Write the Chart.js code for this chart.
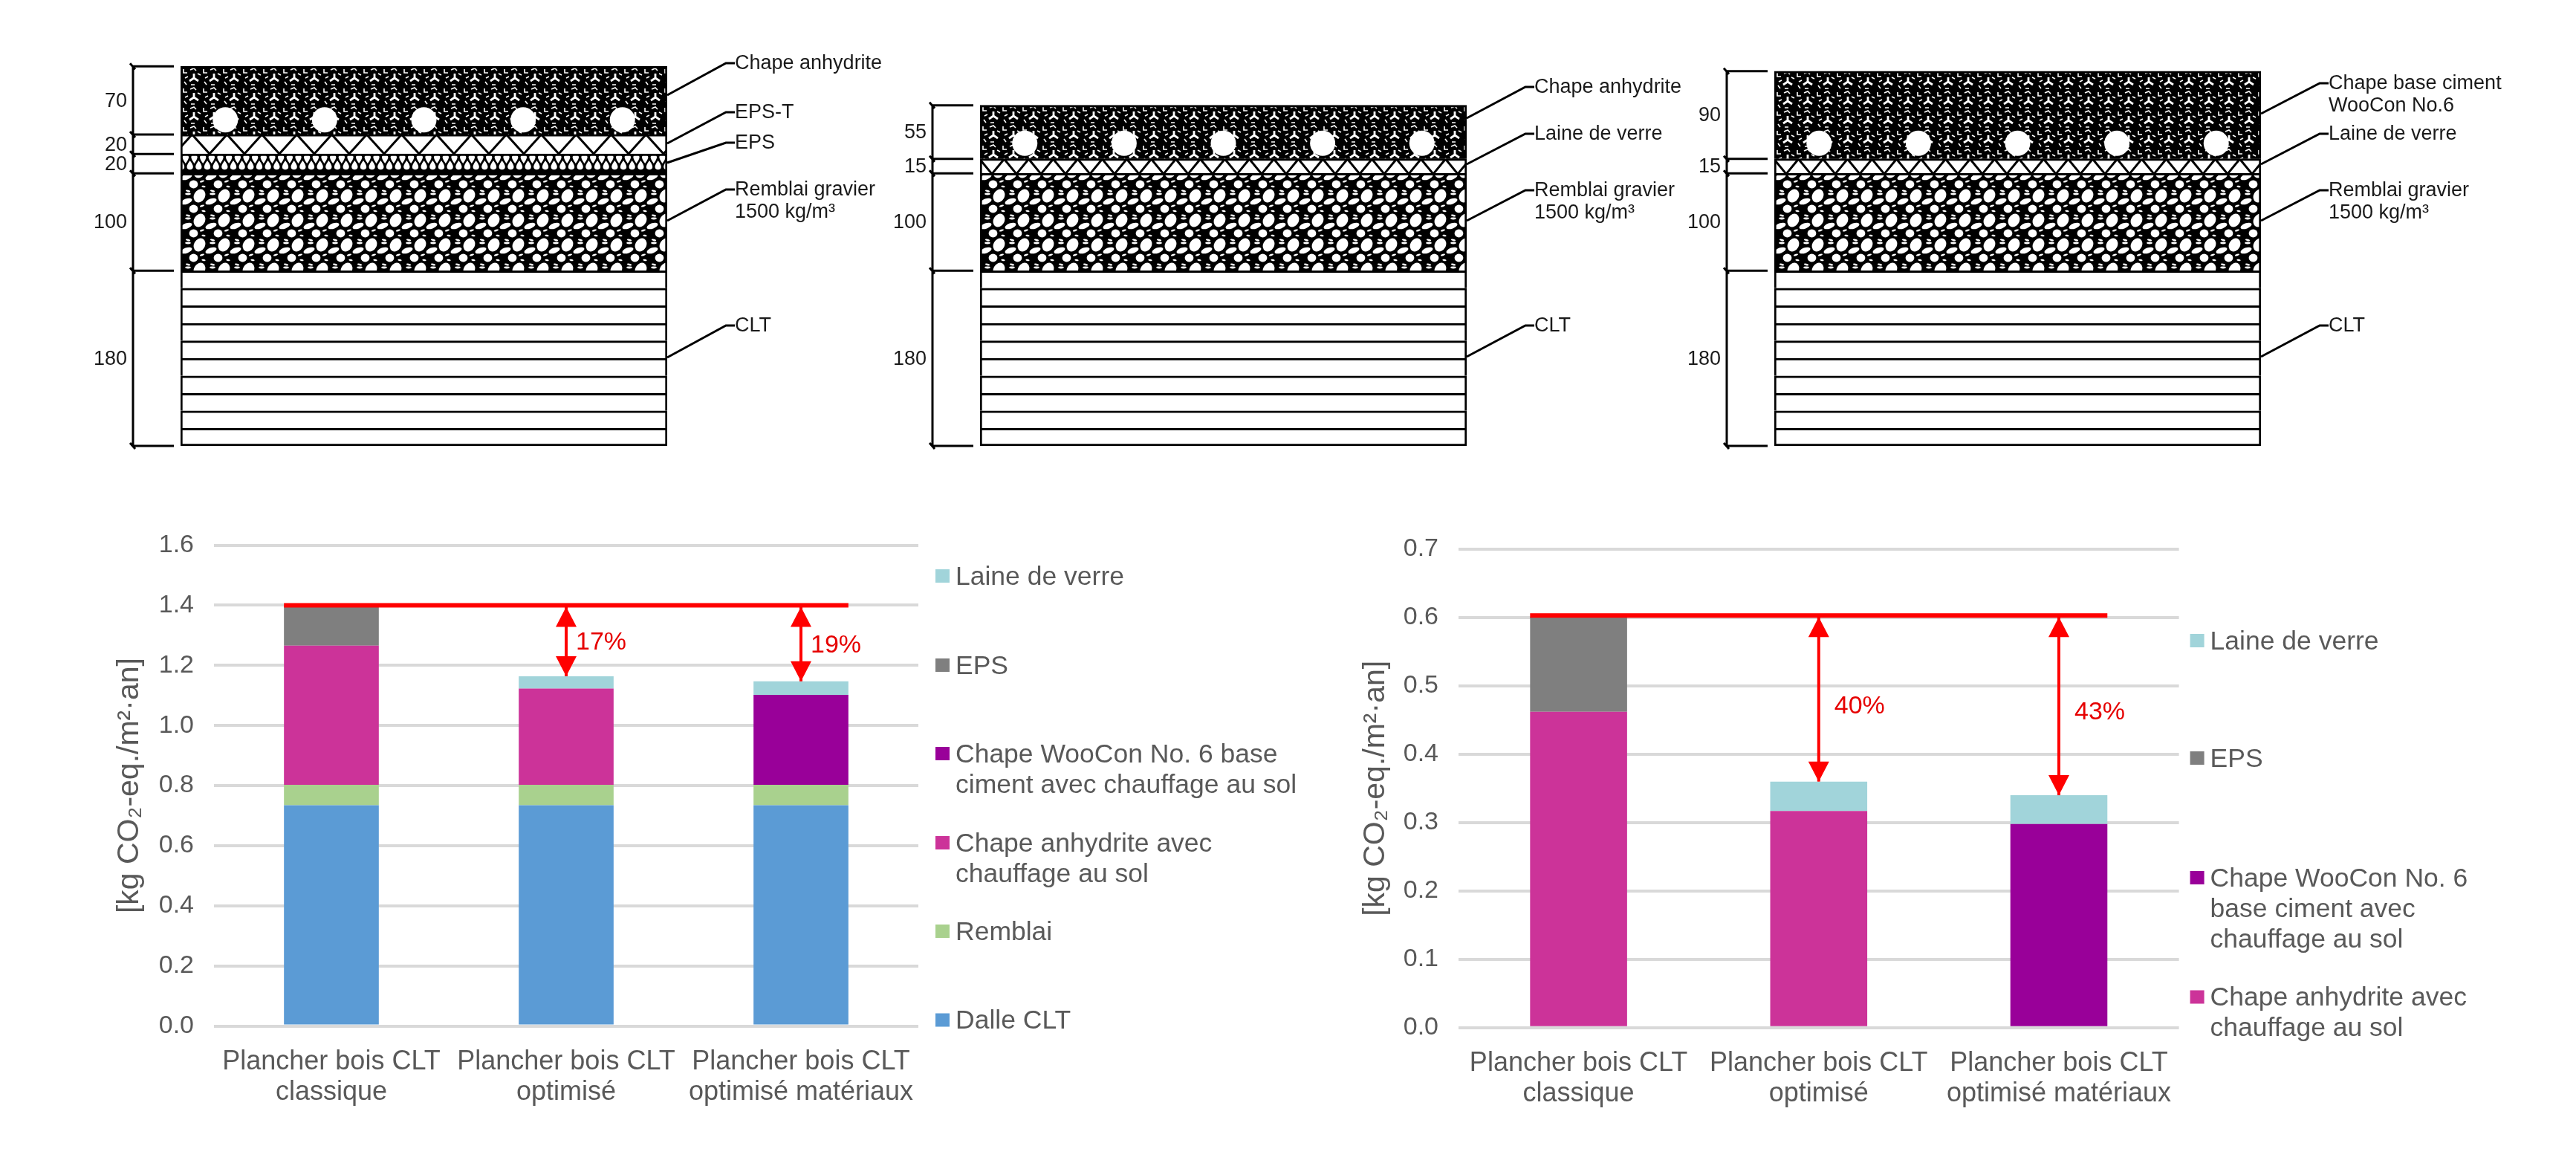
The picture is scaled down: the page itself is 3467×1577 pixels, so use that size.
<!DOCTYPE html>
<html>
<head>
<meta charset="utf-8">
<title>Plancher bois CLT</title>
<script src="https://cdn.jsdelivr.net/npm/chart.js@4/dist/chart.umd.min.js"></script>
<style>
  html, body { margin: 0; background: #fff; width: 3467px; height: 1577px; overflow: hidden; }
  canvas { position: absolute; }
</style>
</head>
<body>
<canvas id="sectionA"></canvas>
<canvas id="sectionB"></canvas>
<canvas id="sectionC"></canvas>
<canvas id="chartTotal"></canvas>
<canvas id="chartScreed"></canvas>
<script>
// floor build-ups, thickness in mm from bottom to top
const layersA = [100, 20, 20, 70];
const layersB = [100, 15, 55];
const layersC = [100, 15, 90];
const lamellae = [18, 18, 18, 18, 18, 18, 18, 18, 18, 18];
const dimensionsA = [180, 100, 20, 20, 70];
const dimensionsB = [180, 100, 15, 55];
const dimensionsC = [180, 100, 15, 90];
const pipesX = [46, 148, 250, 352, 454];

const calloutsA = [['Chape anhydrite'], ['EPS-T'], ['EPS'], ['Remblai gravier', '1500 kg/m³'], ['CLT']];
const calloutsB = [['Chape anhydrite'], ['Laine de verre'], ['Remblai gravier', '1500 kg/m³'], ['CLT']];
const calloutsC = [['Chape base ciment', 'WooCon No.6'], ['Laine de verre'], ['Remblai gravier', '1500 kg/m³'], ['CLT']];

// bar charts
const categories = [['Plancher bois CLT', 'classique'], ['Plancher bois CLT', 'optimisé'], ['Plancher bois CLT', 'optimisé matériaux']];

const dalleTotal = [0.735, 0.735, 0.735];
const remblaiTotal = [0.068, 0.068, 0.068];
const anhydriteTotal = [0.463, 0.320, null];
const wooconTotal = [null, null, 0.299];
const epsTotal = [0.134, null, null];
const laineTotal = [null, 0.041, 0.045];
const refTotal = 1.40;
const savingsTotal = ['17%', '19%'];
const savingsTotalAt = [1.275, 1.265];

const anhydriteScreed = [0.462, 0.317, null];
const wooconScreed = [null, null, 0.298];
const epsScreed = [0.139, null, null];
const laineScreed = [null, 0.043, 0.042];
const refScreed = 0.603;
const savingsScreed = ['40%', '43%'];
const savingsScreedAt = [0.470, 0.461];

const COLORS = { dalle: '#5b9bd5', remblai: '#a9d18e', anhydrite: '#cc3399', woocon: '#990099', eps: '#7f7f7f', laine: '#a1d4da' };
const TEXT = '#595959';
const FONT = 'Liberation Sans, Arial, sans-serif';
const RED = '#ff0000';

Chart.defaults.font.family = FONT;
Chart.defaults.animation = false;
Chart.defaults.responsive = false;
Chart.defaults.devicePixelRatio = 1;
Chart.defaults.events = [];

function setup(id, left, top, width, height) {
  const canvas = document.getElementById(id);
  canvas.width = width;
  canvas.height = height;
  canvas.style.left = left + 'px';
  canvas.style.top = top + 'px';
  return canvas.getContext('2d');
}

function makePattern(ctx, w, h, ox, oy, draw) {
  const tile = document.createElement('canvas');
  tile.width = w;
  tile.height = h;
  draw(tile.getContext('2d'), w, h);
  const pattern = ctx.createPattern(tile, 'repeat');
  pattern.setTransform(new DOMMatrix().translate(ox, oy));
  return pattern;
}

function drawScreed(t, w, h) {
  t.fillStyle = '#000';
  t.fillRect(0, 0, w, h);
  t.strokeStyle = '#fff';
  t.lineCap = 'butt';
  // three-armed fleck
  t.lineWidth = 2.8;
  t.beginPath();
  t.moveTo(17, 8); t.lineTo(17, 14);
  t.moveTo(17, 14); t.lineTo(11, 18);
  t.moveTo(17, 14); t.lineTo(23, 18);
  t.stroke();
  // thin hooks between them
  t.lineWidth = 1.6;
  t.beginPath();
  t.moveTo(3, 2); t.lineTo(3, 7); t.lineTo(8, 7);
  t.moveTo(12, 3); t.lineTo(17, 1); t.lineTo(20, 4);
  t.moveTo(5, 14); t.lineTo(9, 12);
  t.moveTo(4, 19); t.lineTo(7, 23);
  t.moveTo(22, 8); t.lineTo(26, 10);
  t.moveTo(13, 23); t.lineTo(18, 23);
  t.stroke();
}

function drawGravel(t, w, h) {
  t.fillStyle = '#000';
  t.fillRect(0, 0, w, h);
  t.fillStyle = '#fff';
  const blob = (x, y, rx, ry, rot) => {
    for (const dx of [-w, 0, w]) for (const dy of [-h, 0, h]) {
      t.beginPath();
      t.ellipse(x + dx, y + dy, rx, ry, rot, 0, Math.PI * 2);
      t.fill();
    }
  };
  blob(23.5, 31.5, 7.4, 9.4, 0.5);
  blob(6, 6, 7.8, 3.6, -0.35);
  blob(15.5, 16, 5.9, 5.4, 0);
  blob(8, 29, 3.8, 1.4, 0);
  blob(8, 25, 3.2, 1.2, 0.2);
  blob(27, 12, 3.2, 1.2, -0.3);
  blob(29, 19, 2.7, 1.2, 0.2);
}

function drawDrops(t, w, h) {
  t.fillStyle = '#000';
  t.fillRect(0, 0, w, h);
  t.fillStyle = '#fff';
  const step = w / 3;
  for (let i = 0; i < 3; i++) {
    const a = step * i + step / 2;
    t.beginPath();
    t.moveTo(a, 14);
    t.quadraticCurveTo(a - 6, 6, a - 3.4, 3.5);
    t.quadraticCurveTo(a, 1, a + 3.4, 3.5);
    t.quadraticCurveTo(a + 6, 6, a, 14);
    t.fill();
    const b = step * i;
    for (const x of [b, b + w]) {
      t.beginPath();
      t.moveTo(x, 10);
      t.quadraticCurveTo(x - 6, 18, x - 3.4, 21);
      t.quadraticCurveTo(x, 23.5, x + 3.4, 21);
      t.quadraticCurveTo(x + 6, 18, x, 10);
      t.fill();
    }
  }
}

function drawZigzag(t, w, h) {
  t.fillStyle = '#fff';
  t.fillRect(0, 0, w, h);
  t.strokeStyle = '#000';
  t.lineWidth = 3;
  t.beginPath();
  t.moveTo(0, h);
  t.lineTo(w / 2, 0);
  t.lineTo(w, h);
  t.stroke();
}

const AREA_TOP = 50;
const AREA_BOTTOM = 600;
const SECTION_LEFT = 143;
const SECTION_W = 1130;
const BAR_W = 655;

const sectionPlugin = (dimensions, callouts, leaders) => ({
  id: 'section',
  afterDraw(chart) {
    const { ctx, chartArea: area, scales: { y } } = chart;
    const vx = area.left - 64;
    ctx.save();
    ctx.strokeStyle = '#000';
    ctx.fillStyle = '#1a1a1a';
    ctx.lineWidth = 3;
    ctx.font = '27px ' + FONT;

    // dimension bracket, walked from the bottom up
    let total = 0;
    const marks = [0];
    for (const d of dimensions) { total += d; marks.push(total); }
    ctx.beginPath();
    ctx.moveTo(vx, y.getPixelForValue(0));
    ctx.lineTo(vx, y.getPixelForValue(total));
    for (const m of marks) {
      const py = y.getPixelForValue(m);
      ctx.moveTo(vx - 1, py);
      ctx.lineTo(area.left - 9, py);
      ctx.moveTo(vx - 4, py - 4);
      ctx.lineTo(vx + 3, py + 4);
    }
    ctx.stroke();
    ctx.textAlign = 'right';
    ctx.textBaseline = 'middle';
    dimensions.forEach((d, i) => {
      ctx.fillText(String(d), area.left - 72, y.getPixelForValue((marks[i] + marks[i + 1]) / 2) + 1);
    });

    // leader lines and their labels
    ctx.textAlign = 'left';
    callouts.forEach((lines, i) => {
      const [fromY, toY] = leaders[i];
      ctx.beginPath();
      ctx.moveTo(area.right, fromY);
      ctx.lineTo(area.right + 79, toY);
      ctx.lineTo(area.right + 91, toY);
      ctx.stroke();
      lines.forEach((text, n) => ctx.fillText(text, area.right + 91, toY + 1 + n * 30));
    });
    ctx.restore();
  }
});

function createSection(id, left, layers, pipeHeight, patterns, dimensions, callouts, leaders) {
  const ctx = setup(id, left, 0, SECTION_W, 640);
  const patternFor = patterns(ctx);
  const datasets = [];
  lamellae.forEach((value, i) => datasets.push({
    data: [value], backgroundColor: '#fff', borderColor: '#000', order: 1, xAxisID: 'x',
    borderWidth: { top: 3, left: 3, right: 3, bottom: i == 0 ? 3 : 0 }, borderSkipped: false
  }));
  layers.forEach((value, i) => datasets.push({
    data: [value], backgroundColor: patternFor[i], borderColor: '#000', order: 1, xAxisID: 'x',
    borderWidth: { top: 3, left: 3, right: 3, bottom: 0 }, borderSkipped: false
  }));
  datasets.push({
    type: 'scatter', xAxisID: 'mm', order: 0,
    data: pipesX.map(x => ({ x, y: pipeHeight })),
    pointRadius: 17, backgroundColor: '#fff', borderColor: '#fff', borderWidth: 0
  });
  return new Chart(ctx, {
    type: 'bar',
    data: { labels: [''], datasets },
    options: {
      layout: { padding: { left: SECTION_LEFT, right: SECTION_W - SECTION_LEFT - BAR_W, top: AREA_TOP, bottom: 640 - AREA_BOTTOM } },
      datasets: { bar: { categoryPercentage: 1, barPercentage: 1, grouped: false } },
      plugins: { legend: { display: false }, tooltip: { enabled: false } },
      scales: {
        x: { display: false, stacked: true },
        mm: { type: 'linear', display: false, min: 0, max: 500, position: 'bottom', offset: false, grid: { offset: false } },
        y: { display: false, stacked: true, min: 0, max: 420 }
      }
    },
    plugins: [sectionPlugin(dimensions, callouts, leaders)]
  });
}

createSection('sectionA', 100, layersA, 335, ctx => {
  const ox = 143;
  return [
    makePattern(ctx, 33, 33, ox + 2, 232, drawGravel),
    makePattern(ctx, 35, 27, ox + 1, 206, drawDrops),
    makePattern(ctx, 47, 26, ox - 8, 181, drawZigzag),
    makePattern(ctx, 27, 26, ox + 1, 91, drawScreed)
  ];
}, dimensionsA, calloutsA, [[128, 85], [193, 151], [219, 192], [297, 255], [481, 438]]);

createSection('sectionB', 1176, layersB, 311, ctx => {
  const ox = 143;
  return [
    makePattern(ctx, 33, 33, ox + 2, 232, drawGravel),
    makePattern(ctx, 33, 20, ox + 16, 214, drawZigzag),
    makePattern(ctx, 27, 26, ox + 1, 142, drawScreed)
  ];
}, dimensionsB, calloutsB, [[159, 117], [221, 180], [297, 256], [480, 438]]);

createSection('sectionC', 2245, layersC, 311, ctx => {
  const ox = 143;
  return [
    makePattern(ctx, 33, 33, ox + 2, 232, drawGravel),
    makePattern(ctx, 33, 20, ox + 16, 214, drawZigzag),
    makePattern(ctx, 27, 26, ox + 1, 96, drawScreed)
  ];
}, dimensionsC, calloutsC, [[153, 112], [221, 180], [297, 256], [480, 438]]);

const legendTotal = [
  { color: COLORS.laine, lines: ['Laine de verre'], y: 775 },
  { color: COLORS.eps, lines: ['EPS'], y: 895 },
  { color: COLORS.woocon, lines: ['Chape WooCon No. 6 base', 'ciment avec chauffage au sol'], y: 1014 },
  { color: COLORS.anhydrite, lines: ['Chape anhydrite avec', 'chauffage au sol'], y: 1134 },
  { color: COLORS.remblai, lines: ['Remblai'], y: 1253 },
  { color: COLORS.dalle, lines: ['Dalle CLT'], y: 1372.5 }
];
const legendScreed = [
  { color: COLORS.laine, lines: ['Laine de verre'], y: 862 },
  { color: COLORS.eps, lines: ['EPS'], y: 1020 },
  { color: COLORS.woocon, lines: ['Chape WooCon No. 6', 'base ciment avec', 'chauffage au sol'], y: 1181 },
  { color: COLORS.anhydrite, lines: ['Chape anhydrite avec', 'chauffage au sol'], y: 1341.5 }
];

// red reference line, arrows from it down to the stacks, and the side legend
const annotatePlugin = (cfg) => ({
  id: 'annotate',
  afterDraw(chart) {
    const { ctx, chartArea: area, scales: { x, y } } = chart;
    const meta = chart.getDatasetMeta(0);
    const half = meta.data[0].width / 2;
    const refY = y.getPixelForValue(cfg.ref);
    ctx.save();
    ctx.fillStyle = RED;
    ctx.fillRect(x.getPixelForValue(0) - half, refY - 3, x.getPixelForValue(2) + half - (x.getPixelForValue(0) - half), 6);

    cfg.savings.forEach((text, i) => {
      const px = x.getPixelForValue(i + 1);
      const total = chart.data.datasets.reduce((sum, ds) => sum + (ds.data[i + 1] || 0), 0);
      const end = y.getPixelForValue(total);
      ctx.fillStyle = RED;
      ctx.fillRect(px - 2, refY, 4, end - refY);
      ctx.beginPath();
      ctx.moveTo(px, refY + 2); ctx.lineTo(px - 14, refY + 29); ctx.lineTo(px + 14, refY + 29);
      ctx.closePath();
      ctx.moveTo(px, end); ctx.lineTo(px - 14, end - 27); ctx.lineTo(px + 14, end - 27);
      ctx.closePath();
      ctx.fill();
      ctx.fillStyle = '#e60000';
      ctx.font = '34px ' + FONT;
      ctx.textAlign = 'left';
      ctx.textBaseline = 'middle';
      ctx.fillText(text, px + cfg.labelGap, y.getPixelForValue(cfg.savingsAt[i]));
    });

    ctx.font = '35.5px ' + FONT;
    ctx.textAlign = 'left';
    ctx.textBaseline = 'middle';
    const boxX = area.right + cfg.legendGap;
    for (const item of cfg.legend) {
      ctx.fillStyle = item.color;
      ctx.fillRect(boxX, item.y - cfg.top - 9, 19, 18);
      ctx.fillStyle = TEXT;
      item.lines.forEach((line, n) => ctx.fillText(line, boxX + 27, item.y - cfg.top + 2 + n * 41));
    }
    ctx.restore();
  }
});

function createStack(id, box, area, datasets, yMax, yStep, cfg) {
  const ctx = setup(id, box.left, box.top, box.width, box.height);
  return new Chart(ctx, {
    type: 'bar',
    data: {
      labels: categories,
      datasets: datasets.map(d => ({ ...d, categoryPercentage: 1, barPercentage: 0.404 }))
    },
    options: {
      layout: { padding: { left: 0, right: box.left + box.width - area.right, top: area.top - box.top, bottom: 0 } },
      plugins: { legend: { display: false }, tooltip: { enabled: false } },
      scales: {
        x: {
          stacked: true,
          grid: { display: false },
          border: { display: false },
          ticks: { color: TEXT, font: { size: 36, lineHeight: 1.14 }, padding: 20, maxRotation: 0, autoSkip: false },
          afterFit: s => { s.height = box.top + box.height - area.bottom; s.paddingLeft = 0; s.paddingRight = 0; }
        },
        y: {
          stacked: true,
          min: 0,
          max: yMax,
          grid: { color: '#d9d9d9', lineWidth: 4, drawTicks: false },
          border: { display: false },
          ticks: { color: TEXT, font: { size: 34 }, stepSize: yStep, padding: 27, callback: v => Number(v).toFixed(1) },
          title: { display: true, text: '[kg CO₂-eq./m²·an]', color: TEXT, font: { size: 41 }, padding: { top: cfg.titleTop, bottom: 0 } },
          afterFit: s => { s.width = area.left - box.left; s.paddingTop = 0; s.paddingBottom = 0; }
        }
      }
    },
    plugins: [annotatePlugin({ ...cfg, top: box.top })]
  });
}

createStack('chartTotal',
  { left: 120, top: 700, width: 1660, height: 820 },
  { left: 288, right: 1236, top: 733.6, bottom: 1380.6 },
  [
    { label: 'Dalle CLT', data: dalleTotal, backgroundColor: COLORS.dalle },
    { label: 'Remblai', data: remblaiTotal, backgroundColor: COLORS.remblai },
    { label: 'Chape anhydrite avec chauffage au sol', data: anhydriteTotal, backgroundColor: COLORS.anhydrite },
    { label: 'Chape WooCon No. 6 base ciment avec chauffage au sol', data: wooconTotal, backgroundColor: COLORS.woocon },
    { label: 'EPS', data: epsTotal, backgroundColor: COLORS.eps },
    { label: 'Laine de verre', data: laineTotal, backgroundColor: COLORS.laine }
  ],
  1.6, 0.2,
  { ref: refTotal, savings: savingsTotal, savingsAt: savingsTotalAt, labelGap: 13, legend: legendTotal, legendGap: 23, titleTop: 30 });

createStack('chartScreed',
  { left: 1800, top: 700, width: 1660, height: 820 },
  { left: 1963, right: 2932.6, top: 739, bottom: 1382.7 },
  [
    { label: 'Chape anhydrite avec chauffage au sol', data: anhydriteScreed, backgroundColor: COLORS.anhydrite },
    { label: 'Chape WooCon No. 6 base ciment avec chauffage au sol', data: wooconScreed, backgroundColor: COLORS.woocon },
    { label: 'EPS', data: epsScreed, backgroundColor: COLORS.eps },
    { label: 'Laine de verre', data: laineScreed, backgroundColor: COLORS.laine }
  ],
  0.7, 0.1,
  { ref: refScreed, savings: savingsScreed, savingsAt: savingsScreedAt, labelGap: 21, legend: legendScreed, legendGap: 15, titleTop: 27 });
</script>
</body>
</html>
